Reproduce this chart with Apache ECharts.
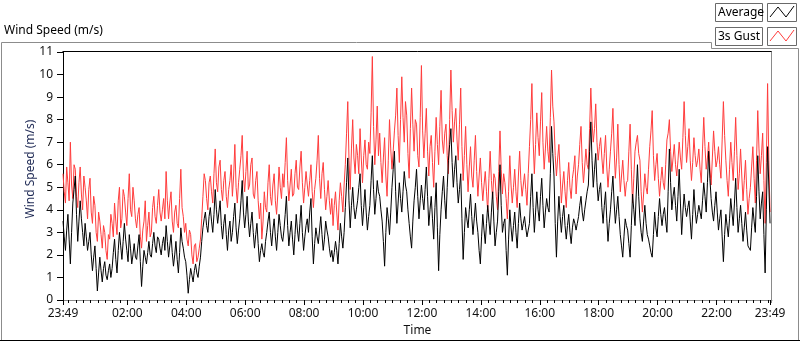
<!DOCTYPE html>
<html>
<head>
<meta charset="utf-8">
<script src="https://cdn.jsdelivr.net/npm/echarts@6/dist/echarts.min.js"></script>
<style>
html,body{margin:0;padding:0;background:#fff;}
#chart{width:800px;height:342px;}
</style>
</head>
<body>
<div id="chart"></div>
<script>
// Time step between samples (minutes), samples start at 23:49
const stepMinutes = 2.5;

// 3s Gust (m/s)
const gust = [
5.6,4.8,4.3,5.9,5.2,4.4,7.0,5.1,4.5,6.0,5.8,4.6,4.1,5.2,5.9,4.7,4.0,5.5,5.0,4.4,
3.6,4.9,5.4,3.9,3.4,4.6,4.2,3.0,2.6,3.9,3.5,2.9,2.3,3.3,3.0,2.2,1.8,2.9,2.7,3.8,
3.4,2.8,4.3,3.5,2.9,4.4,5.0,3.2,3.6,4.9,4.6,3.9,3.3,4.5,5.6,4.0,3.7,5.0,4.4,3.6,
3.2,3.8,4.1,2.8,2.3,3.1,3.5,4.4,2.6,3.3,3.9,2.8,3.0,4.1,4.6,3.7,3.4,4.2,4.9,3.9,
3.5,4.0,4.5,3.6,5.7,4.4,3.6,4.3,4.8,3.5,3.0,3.9,4.2,3.4,3.2,4.5,5.8,4.1,3.7,3.0,
3.4,2.7,2.4,3.1,2.9,2.0,1.6,2.4,2.5,1.7,1.9,2.3,2.7,3.6,4.6,5.6,5.3,4.5,4.0,5.2,
5.5,4.8,4.3,5.6,6.7,5.2,4.8,5.9,6.2,4.9,4.4,5.3,5.7,4.6,4.1,4.9,5.3,6.0,4.6,5.5,
6.9,5.0,4.3,5.2,5.8,6.4,7.3,5.5,4.8,5.7,6.6,4.9,5.1,6.0,6.3,4.7,4.5,5.3,5.7,4.4,
3.6,4.3,2.7,3.5,4.8,4.1,3.9,5.2,6.0,4.6,4.2,5.1,5.6,4.4,3.8,4.7,5.9,5.0,4.5,5.6,
5.0,6.1,7.2,5.3,4.4,5.1,5.8,4.6,4.7,5.6,6.2,5.0,4.9,5.9,6.6,5.2,4.3,5.0,5.7,5.1,
4.6,5.3,6.0,4.8,4.1,4.9,5.4,6.2,7.3,5.4,4.5,5.6,6.1,4.9,4.0,4.6,5.3,4.4,3.8,4.5,
3.3,4.2,4.8,3.9,3.1,4.4,5.2,4.6,3.9,5.1,6.0,7.4,8.8,6.2,4.9,6.7,8.0,6.3,5.6,6.9,
6.4,5.6,7.6,6.3,5.2,6.4,7.1,6.0,5.8,7.0,6.5,8.3,10.8,7.7,6.0,7.1,8.6,6.4,7.4,6.1,
5.2,6.3,7.2,5.5,4.6,6.2,8.0,6.7,5.8,6.6,7.5,8.2,9.4,7.3,6.1,8.0,9.9,8.1,7.0,8.8,
8.2,6.5,5.4,7.6,9.4,7.8,6.6,8.0,7.8,6.4,5.9,8.1,10.4,7.5,6.3,7.4,8.5,6.6,5.5,6.8,
7.3,6.1,5.0,6.6,8.1,6.9,6.0,7.7,9.3,7.1,6.5,7.4,7.8,6.4,5.6,8.0,10.2,8.4,7.0,7.9,
8.5,7.1,6.2,7.8,9.4,6.8,5.3,6.4,7.7,6.0,4.8,5.9,6.8,5.5,5.0,6.2,7.3,5.7,4.6,5.5,
6.3,5.2,4.4,5.1,5.7,4.8,3.9,5.4,6.6,5.3,4.5,5.6,5.4,4.6,4.0,5.7,7.5,5.8,4.7,5.6,
5.2,4.5,3.6,4.8,6.4,5.1,4.3,5.0,5.8,4.8,4.1,5.5,6.6,5.3,4.6,5.1,5.6,4.9,4.2,5.6,
6.8,8.0,9.6,7.1,5.6,6.9,8.3,7.2,6.4,7.9,9.2,7.0,5.8,6.7,7.7,6.6,6.1,8.1,10.2,8.6,
7.9,6.4,5.5,6.3,6.9,5.6,4.3,5.1,5.7,4.8,4.1,5.3,6.1,5.0,4.5,5.4,5.8,6.4,4.7,5.5,
6.0,6.9,7.7,6.1,5.2,5.9,6.7,6.0,5.8,7.6,9.4,7.9,7.0,7.6,8.7,7.0,6.2,6.8,7.2,6.3,
5.6,6.5,7.3,5.9,5.0,5.8,6.6,7.4,8.5,6.7,5.4,6.3,7.8,6.0,4.8,5.5,6.2,5.3,4.6,5.2,
5.3,6.6,7.8,5.8,4.3,5.4,6.6,7.0,7.3,6.5,6.2,4.8,3.9,4.7,5.6,5.0,4.7,5.8,6.8,7.5,
8.4,6.4,5.3,6.0,6.5,5.4,4.6,5.3,5.9,5.2,4.9,6.0,7.1,7.4,8.0,6.6,5.7,6.3,6.9,6.0,
5.5,6.2,7.0,6.3,5.8,7.2,8.8,7.3,6.1,6.8,7.6,6.2,5.3,6.1,7.2,6.4,5.9,6.2,6.7,5.8,
5.2,6.7,8.1,6.8,5.8,6.3,7.0,5.9,5.1,6.3,7.5,6.6,5.9,6.2,6.8,6.0,5.4,7.1,8.8,7.3,
6.2,5.3,4.6,5.8,7.0,6.1,5.3,6.6,8.1,6.4,4.9,5.6,6.7,5.5,4.4,5.3,6.2,4.9,3.8,4.5,
5.0,5.9,6.8,5.4,4.3,6.2,8.4,6.7,5.6,6.4,7.4,5.3,3.4,6.1,9.6,6.2,3.9
];

// Average (m/s)
const average = [
3.5,2.8,2.2,3.1,3.8,2.7,1.6,3.0,4.3,4.9,5.5,3.8,2.6,3.5,4.4,3.6,3.0,2.4,3.4,2.8,
2.2,2.6,3.0,2.0,1.3,1.9,2.4,1.4,0.4,1.2,1.9,1.3,0.8,1.4,1.7,1.1,0.9,1.3,1.6,1.0,
1.4,2.1,2.7,1.8,1.2,2.2,3.0,2.4,1.8,2.6,3.4,2.7,2.2,1.7,2.9,2.3,1.6,2.0,2.5,1.9,
1.8,2.4,2.9,1.7,0.6,1.5,2.2,1.9,1.6,2.1,2.6,2.0,1.9,2.5,3.0,2.4,2.1,2.8,2.7,2.3,
2.0,2.5,2.8,2.2,3.3,2.6,1.9,2.4,2.9,2.1,1.5,2.0,2.6,1.8,1.2,2.1,3.2,2.6,2.3,1.9,
1.7,1.1,0.3,0.9,1.4,1.1,0.8,1.3,1.6,1.2,1.0,1.5,1.9,2.6,3.2,3.6,3.9,3.3,3.0,3.7,
4.1,3.5,3.0,3.8,4.9,4.0,3.4,3.9,4.4,3.3,2.7,3.4,3.8,2.9,2.2,3.1,3.5,2.6,3.0,3.7,
4.3,3.2,2.5,3.1,3.6,4.4,5.3,3.9,3.2,3.8,4.6,3.5,2.8,3.4,3.9,3.0,2.3,2.9,3.4,2.5,
1.7,2.2,2.5,2.1,1.9,2.6,3.0,3.5,3.9,3.0,2.4,3.1,3.6,2.8,2.2,3.0,3.8,3.3,2.8,2.6,
3.1,3.8,4.6,3.3,2.4,3.0,3.5,2.7,2.0,2.9,3.8,3.1,2.6,3.4,4.2,3.0,2.2,2.8,3.3,3.6,
3.0,3.9,4.5,2.8,1.6,2.5,3.2,2.8,2.5,3.1,3.7,2.9,2.2,2.7,3.5,3.1,2.8,2.3,1.9,2.2,
1.7,2.1,2.6,2.2,1.6,2.5,3.4,2.8,2.3,3.0,4.1,5.2,6.3,4.4,3.2,4.2,5.0,4.1,3.6,4.0,
4.4,5.0,5.6,4.2,3.3,4.1,4.9,3.9,3.1,3.7,4.2,5.3,6.4,4.9,3.8,4.5,5.3,4.8,4.6,4.0,
3.5,2.6,1.5,3.0,4.1,3.6,2.9,3.9,5.0,5.8,6.6,4.8,3.4,4.3,5.2,4.5,3.9,4.8,5.7,5.1,
4.8,4.0,3.4,2.8,2.3,3.5,4.4,5.0,5.8,4.6,3.6,4.4,5.1,4.5,4.0,4.9,5.9,4.6,3.3,4.0,
4.6,3.6,2.7,4.1,5.2,3.2,1.3,2.9,4.0,4.8,5.5,4.4,3.6,5.0,6.2,6.9,7.6,6.1,5.0,5.8,
6.4,5.2,4.3,4.9,5.6,3.6,1.8,3.0,4.1,3.6,3.2,4.0,4.7,3.7,2.9,3.6,4.3,3.5,3.0,2.2,
1.6,2.8,3.8,3.1,2.5,3.4,4.2,3.5,2.9,3.9,4.8,3.5,2.4,3.0,3.5,4.8,6.0,4.2,3.0,3.4,
3.6,2.2,1.1,2.7,4.0,3.2,2.6,3.3,3.9,3.0,2.3,3.4,4.3,3.6,3.1,3.4,3.7,3.2,2.8,3.1,
3.4,4.6,5.6,4.1,3.0,3.9,4.8,4.0,3.5,4.6,5.4,4.2,3.2,3.9,4.5,4.1,3.9,5.6,7.7,6.5,
5.5,3.4,1.9,3.5,4.6,3.7,3.0,3.7,4.2,3.3,2.7,3.3,3.8,3.0,2.5,3.2,3.6,3.4,3.1,3.4,
3.7,4.2,4.6,3.9,3.5,4.0,4.4,4.8,5.1,6.6,7.9,6.2,5.0,5.8,6.5,5.2,4.4,4.9,5.2,4.1,
3.4,4.2,4.8,3.6,2.6,3.4,4.0,4.8,5.5,4.3,3.4,4.0,4.6,3.7,2.9,2.4,1.9,2.8,3.6,3.3,
3.1,2.5,1.9,3.3,4.7,4.0,3.3,4.7,6.0,4.6,3.6,3.0,2.6,3.5,4.2,3.4,2.9,2.7,2.4,2.1,
1.9,2.9,3.9,3.2,2.8,3.7,4.5,3.8,3.3,3.8,4.1,3.5,3.0,4.8,6.7,5.2,4.0,4.6,5.0,4.2,
3.5,4.6,5.8,4.3,2.9,3.9,4.7,4.1,3.7,4.1,4.4,3.5,2.7,3.8,4.9,4.0,3.4,3.8,4.2,3.9,
3.6,4.4,5.2,4.6,3.9,5.2,6.6,5.4,4.5,3.9,3.5,4.2,4.8,3.9,3.1,3.6,4.0,2.8,1.7,2.9,
3.8,3.3,2.8,3.6,4.5,3.9,3.3,4.3,5.4,4.1,3.0,3.6,4.2,3.4,2.6,3.2,3.9,3.1,2.4,2.3,
2.2,3.2,4.1,3.5,3.0,4.6,6.4,4.8,3.6,4.3,4.8,2.9,1.2,4.0,6.8,5.1,3.4
];

// X tick labels and their positions (minutes after 23:49 start)
const tickLabels = ['23:49','02:00','04:00','06:00','08:00','10:00','12:00','14:00','16:00','18:00','20:00','22:00','23:49'];
const tickMinutes = [0,131,251,371,491,611,731,851,971,1091,1211,1331,1440];
// minor ticks every 15 clock minutes (first at 00:00 = 11 min after start)
const minorTickMinutes = [];
for (let m = 11; m < 1440; m += 15) minorTickMinutes.push(m);

const seriesNames = ['Average', '3s Gust'];

const gustData = gust.map((v, i) => [i * stepMinutes, v]);
const avgData = average.map((v, i) => [i * stepMinutes, v]);

const FONT = 'Noto Sans';
const chart = echarts.init(document.getElementById('chart'), null, {renderer: 'canvas'});

function legendItem(y, label, color) {
  return [
    {type: 'rect', shape: {x: 715.5, y: y + 0.5, width: 47, height: 18}, style: {fill: '#fff', stroke: '#6a6a6a', lineWidth: 1}, silent: true},
    {type: 'text', x: 718, y: y + 10, style: {text: label, font: '12px ' + FONT, fill: '#000', textVerticalAlign: 'middle'}, silent: true},
    {type: 'rect', shape: {x: 767.5, y: y + 0.5, width: 29, height: 18}, style: {fill: '#fff', stroke: '#6a6a6a', lineWidth: 1}, silent: true},
    {type: 'polyline', shape: {points: [[770, y + 14], [778, y + 4], [786, y + 14], [794, y + 3]]}, style: {stroke: color, lineWidth: 1, fill: null}, silent: true}
  ];
}

const option = {
  animation: false,
  backgroundColor: '#fff',
  grid: {left: 63, right: 28, top: 52, bottom: 39, containLabel: false},
  xAxis: [
    {
      type: 'value', min: 0, max: 1444,
      name: 'Time', nameLocation: 'middle', nameGap: 25,
      nameTextStyle: {fontFamily: FONT, fontSize: 12, color: '#111'},
      axisLine: {show: true, lineStyle: {color: '#8a8a8a', width: 1}},
      axisTick: {show: true, customValues: tickMinutes, length: 5, inside: false, lineStyle: {color: '#000'}},
      axisLabel: {show: true, customValues: tickMinutes, margin: 8, fontFamily: FONT, fontSize: 12, color: '#111',
        formatter: function (val) { const k = tickMinutes.indexOf(Math.round(val)); return k >= 0 ? tickLabels[k] : ''; }},
      splitLine: {show: false}
    },
    {
      type: 'value', min: 0, max: 1444, position: 'bottom', gridIndex: 0,
      axisLine: {show: false},
      axisTick: {show: true, customValues: minorTickMinutes, length: 3, lineStyle: {color: '#000'}},
      axisLabel: {show: false},
      splitLine: {show: false}
    }
  ],
  yAxis: {
    type: 'value', min: 0, max: 11, interval: 1,
    axisLine: {show: true, lineStyle: {color: '#000', width: 1}},
    axisTick: {show: true, length: 6, lineStyle: {color: '#000'}},
    axisLabel: {margin: 10, fontFamily: FONT, fontSize: 12, color: '#111'},
    splitLine: {show: false}
  },
  series: [
    {name: seriesNames[1], type: 'line', data: gustData, showSymbol: false, symbol: 'none',
      lineStyle: {color: '#ff3c3c', width: 1}, itemStyle: {color: '#ff3c3c'}, z: 2},
    {name: seriesNames[0], type: 'line', data: avgData, showSymbol: false, symbol: 'none',
      lineStyle: {color: '#000', width: 1}, itemStyle: {color: '#000'}, z: 3}
  ],
  graphic: [
    // title
    {type: 'text', x: 4, y: 31, style: {text: 'Wind Speed (m/s)', font: '12px ' + FONT, fill: '#000', textVerticalAlign: 'middle'}, silent: true},
    // outer frame
    {type: 'polyline', shape: {points: [[1.5, 341], [1.5, 42.5], [711.5, 42.5], [711.5, 48.5], [798.5, 48.5], [798.5, 341]]}, style: {stroke: '#8c8c8c', lineWidth: 1, fill: null}, silent: true},
    {type: 'line', shape: {x1: 0, y1: 340.5, x2: 800, y2: 340.5}, style: {stroke: '#000', lineWidth: 1}, silent: true},
    // plot frame: top black, right gray
    {type: 'line', shape: {x1: 62.5, y1: 51.5, x2: 772, y2: 51.5}, style: {stroke: '#000', lineWidth: 1}, silent: true},
    {type: 'line', shape: {x1: 771.5, y1: 51.5, x2: 771.5, y2: 303}, style: {stroke: '#8a8a8a', lineWidth: 1}, silent: true},
    // y axis name
    {type: 'text', x: 31, y: 169, rotation: Math.PI / 2, style: {text: 'Wind Speed (m/s)', font: '12px ' + FONT, fill: '#1f2a55', textAlign: 'center', textVerticalAlign: 'middle'}, silent: true}
  ].concat(legendItem(3, seriesNames[0], '#000'), legendItem(27, seriesNames[1], '#ff3c3c'))
};

chart.setOption(option);
</script>
</body>
</html>
